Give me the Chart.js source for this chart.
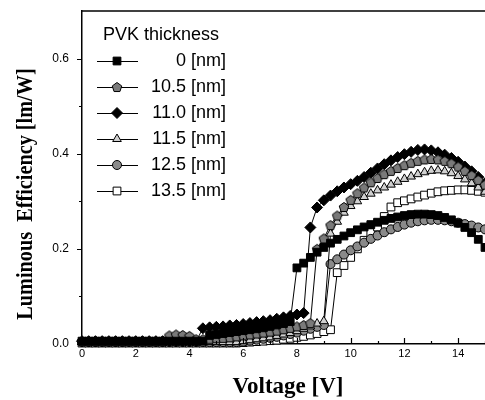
<!DOCTYPE html>
<html>

<head>
    <style>
        body { margin: 0; background: #fff; }
        #chartBox { width: 485px; height: 400px; position: relative; }
    </style>
    <script src="https://cdn.jsdelivr.net/npm/chart.js"></script>
</head>

<body>
    <div id="chartBox">
        <canvas id="effChart"></canvas>
    </div>

    <script>
        // drive voltage, 0.25 V steps
        const voltage = [
            0, 0.25, 0.5, 0.75, 1, 1.25, 1.5, 1.75, 2, 2.25, 2.5, 2.75,
            3, 3.25, 3.5, 3.75, 4, 4.25, 4.5, 4.75, 5, 5.25, 5.5, 5.75,
            6, 6.25, 6.5, 6.75, 7, 7.25, 7.5, 7.75, 8, 8.25, 8.5, 8.75,
            9, 9.25, 9.5, 9.75, 10, 10.25, 10.5, 10.75, 11, 11.25, 11.5, 11.75,
            12, 12.25, 12.5, 12.75, 13, 13.25, 13.5, 13.75, 14, 14.25, 14.5, 14.75, 15
        ];

        const thickness = ['0 [nm]', '10.5 [nm]', '11.0 [nm]', '11.5 [nm]', '12.5 [nm]', '13.5 [nm]'];

        // luminous efficiency [lm/W]
        const eff0 = [
            0.006, 0.006, 0.006, 0.006, 0.006, 0.006, 0.006, 0.006, 0.006, 0.006, 0.006, 0.006,
            0.006, 0.006, 0.006, 0.006, 0.006, 0.006, 0.006, 0.018, 0.020, 0.022, 0.024, 0.026,
            0.028, 0.030, 0.032, 0.034, 0.037, 0.040, 0.043, 0.047, 0.160, 0.170, 0.182, 0.193,
            0.203, 0.212, 0.220, 0.227, 0.234, 0.240, 0.246, 0.251, 0.256, 0.260, 0.264, 0.267,
            0.270, 0.272, 0.273, 0.273, 0.272, 0.270, 0.266, 0.261, 0.254, 0.245, 0.234, 0.220, 0.203
        ];
        const eff105 = [
            0.006, 0.006, 0.006, 0.006, 0.006, 0.006, 0.006, 0.006, 0.006, 0.006, 0.006, 0.006,
            0.006, 0.018, 0.020, 0.019, 0.017, 0.010, 0.010, 0.011, 0.012, 0.013, 0.014, 0.016,
            0.018, 0.020, 0.022, 0.024, 0.026, 0.028, 0.031, 0.034, 0.037, 0.040, 0.044, 0.200,
            0.222, 0.250, 0.270, 0.288, 0.303, 0.317, 0.329, 0.340, 0.349, 0.357, 0.364, 0.370,
            0.376, 0.381, 0.385, 0.388, 0.389, 0.388, 0.385, 0.380, 0.373, 0.364, 0.355, 0.345, 0.335
        ];
        const eff110 = [
            0.006, 0.006, 0.006, 0.006, 0.006, 0.006, 0.006, 0.006, 0.006, 0.006, 0.006, 0.006,
            0.006, 0.006, 0.006, 0.006, 0.006, 0.006, 0.033, 0.035, 0.036, 0.037, 0.039, 0.040,
            0.042, 0.044, 0.046, 0.048, 0.050, 0.053, 0.056, 0.059, 0.062, 0.065, 0.245, 0.287,
            0.302, 0.312, 0.321, 0.329, 0.336, 0.343, 0.351, 0.360, 0.369, 0.378, 0.386, 0.393,
            0.399, 0.404, 0.408, 0.409, 0.407, 0.403, 0.398, 0.391, 0.383, 0.373, 0.363, 0.351, 0.338
        ];
        const eff115 = [
            0.004, 0.004, 0.004, 0.004, 0.004, 0.004, 0.004, 0.004, 0.004, 0.004, 0.004, 0.004,
            0.004, 0.004, 0.004, 0.004, 0.004, 0.004, 0.004, 0.004, 0.004, 0.004, 0.004, 0.004,
            0.006, 0.008, 0.010, 0.012, 0.014, 0.017, 0.020, 0.023, 0.027, 0.032, 0.037, 0.043,
            0.048, 0.232, 0.257, 0.276, 0.290, 0.300, 0.309, 0.316, 0.323, 0.329, 0.335, 0.341,
            0.347, 0.352, 0.357, 0.361, 0.364, 0.365, 0.363, 0.359, 0.353, 0.346, 0.338, 0.329, 0.320
        ];
        const eff125 = [
            0.004, 0.004, 0.004, 0.004, 0.004, 0.004, 0.004, 0.004, 0.004, 0.004, 0.004, 0.004,
            0.004, 0.004, 0.004, 0.004, 0.004, 0.004, 0.004, 0.004, 0.004, 0.004, 0.004, 0.004,
            0.005, 0.007, 0.009, 0.011, 0.013, 0.015, 0.018, 0.021, 0.024, 0.028, 0.032, 0.036,
            0.040, 0.168, 0.178, 0.188, 0.197, 0.205, 0.213, 0.221, 0.228, 0.235, 0.241, 0.246,
            0.251, 0.255, 0.258, 0.260, 0.261, 0.261, 0.260, 0.258, 0.255, 0.252, 0.249, 0.245, 0.241
        ];
        const eff135 = [
            0.002, 0.002, 0.002, 0.002, 0.002, 0.002, 0.002, 0.002, 0.002, 0.002, 0.002, 0.002,
            0.002, 0.002, 0.002, 0.002, 0.002, 0.002, 0.002, 0.002, 0.002, 0.002, 0.002, 0.002,
            0.003, 0.004, 0.005, 0.006, 0.007, 0.008, 0.010, 0.012, 0.014, 0.016, 0.019, 0.022,
            0.026, 0.030, 0.150, 0.165, 0.182, 0.200, 0.218, 0.234, 0.246, 0.268, 0.288, 0.297,
            0.301, 0.305, 0.309, 0.313, 0.317, 0.320, 0.322, 0.323, 0.324, 0.324, 0.323, 0.321, 0.319
        ];

        const xTicks = [0, 2, 4, 6, 8, 10, 12, 14];
        const xMinorTicks = [1, 3, 5, 7, 9, 11, 13, 15];
        const yTicks = [0, 0.2, 0.4, 0.6];
        const yMinorTicks = [0.1, 0.3, 0.5];

        const sansFont = '"Liberation Sans", Arial, sans-serif';
        const serifFont = '"Liberation Serif", "Times New Roman", serif';

        // Chart.js has no pentagon marker, so build one as an image
        function pentagonMarker(r, fill) {
            const c = document.createElement('canvas');
            c.width = c.height = 2 * r + 2;
            const g = c.getContext('2d');
            g.beginPath();
            for (let k = 0; k < 5; k++) {
                const a = -Math.PI / 2 + k * 2 * Math.PI / 5;
                const px = r + 1 + r * Math.cos(a);
                const py = r + 1.5 + r * Math.sin(a);
                if (k == 0) g.moveTo(px, py); else g.lineTo(px, py);
            }
            g.closePath();
            g.fillStyle = fill;
            g.fill();
            g.lineWidth = 1;
            g.strokeStyle = '#000';
            g.stroke();
            return c;
        }

        function toPoints(values) {
            return values.map((v, i) => ({ x: voltage[i], y: v }));
        }

        // keep the plot box fixed: no extra room for edge labels
        function noEdgePadding(scale) {
            scale.paddingTop = 0;
            scale.paddingBottom = 0;
            scale.paddingLeft = 0;
            scale.paddingRight = 0;
        }

        const seriesValues = [eff0, eff105, eff110, eff115, eff125, eff135];
        const markers = [
            { pointStyle: 'rect', radius: 5.5, fill: '#000' },
            { pointStyle: pentagonMarker(5, '#7a7a7a'), radius: 5, fill: '#7a7a7a' },
            { pointStyle: 'rectRot', radius: 5.5, fill: '#000' },
            { pointStyle: 'triangle', radius: 5, fill: '#d0d0d0' },
            { pointStyle: 'circle', radius: 4.5, fill: '#8a8a8a' },
            { pointStyle: 'rect', radius: 5.5, fill: '#fff' }
        ];

        const datasets = seriesValues.map((vals, i) => ({
            label: thickness[i],
            data: toPoints(vals),
            showLine: true,
            borderColor: '#000',
            borderWidth: 1,
            pointStyle: markers[i].pointStyle,
            pointRadius: markers[i].radius,
            pointBackgroundColor: markers[i].fill,
            pointBorderColor: '#000',
            pointBorderWidth: 1,
            clip: false
        }));

        // box lines, inward/outward tick marks, axis titles and the key
        const decorations = {
            id: 'decorations',
            afterDraw(chart) {
                const ctx = chart.ctx;
                const area = chart.chartArea;
                const xs = chart.scales.x;
                const ys = chart.scales.y;
                ctx.save();
                ctx.strokeStyle = '#000';
                ctx.lineWidth = 1.5;
                ctx.beginPath();
                ctx.moveTo(area.left, area.top);
                ctx.lineTo(chart.width, area.top);
                ctx.stroke();

                ctx.lineWidth = 1.2;
                ctx.beginPath();
                xTicks.forEach(v => {
                    const px = Math.round(xs.getPixelForValue(v)) + 0.5;
                    ctx.moveTo(px, area.bottom);
                    ctx.lineTo(px, area.bottom - 6);
                });
                xMinorTicks.forEach(v => {
                    const px = Math.round(xs.getPixelForValue(v)) + 0.5;
                    ctx.moveTo(px, area.bottom);
                    ctx.lineTo(px, area.bottom - 3);
                });
                yTicks.forEach(v => {
                    const py = Math.round(ys.getPixelForValue(v)) + 0.5;
                    ctx.moveTo(area.left, py);
                    ctx.lineTo(area.left - 5, py);
                });
                yMinorTicks.forEach(v => {
                    const py = Math.round(ys.getPixelForValue(v)) + 0.5;
                    ctx.moveTo(area.left, py);
                    ctx.lineTo(area.left - 3, py);
                });
                ctx.stroke();

                // axis titles
                ctx.fillStyle = '#000';
                ctx.font = 'bold 23px ' + serifFont;
                ctx.textAlign = 'center';
                ctx.textBaseline = 'alphabetic';
                ctx.fillText('Voltage [V]', 288, 393);

                ctx.save();
                ctx.translate(32, 194);
                ctx.rotate(-Math.PI / 2);
                ctx.scale(0.88, 1);
                ctx.font = 'bold 23px ' + serifFont;
                ctx.fillText('Luminous  Efficiency [lm/W]', 0, 0);
                ctx.restore();

                // key
                ctx.font = '18px ' + sansFont;
                ctx.textAlign = 'left';
                ctx.textBaseline = 'middle';
                ctx.fillText('PVK thickness', 103, 35);
                ctx.textAlign = 'right';
                chart.data.datasets.forEach((ds, i) => {
                    const ky = 61 + 26 * i;
                    ctx.strokeStyle = '#000';
                    ctx.lineWidth = 1;
                    ctx.beginPath();
                    ctx.moveTo(97, ky + 0.5);
                    ctx.lineTo(138, ky + 0.5);
                    ctx.stroke();
                    ctx.fillStyle = ds.pointBackgroundColor;
                    ctx.strokeStyle = '#000';
                    Chart.helpers.drawPoint(ctx, {
                        pointStyle: ds.pointStyle,
                        radius: ds.pointRadius,
                        rotation: 0,
                        borderWidth: 1
                    }, 117, ky);
                    ctx.fillStyle = '#000';
                    ctx.fillText(ds.label, 226, ky);
                });
                ctx.restore();
            }
        };

        const chart = new Chart(document.getElementById('effChart'), {
            type: 'scatter',
            data: { datasets: datasets },
            options: {
                responsive: true,
                maintainAspectRatio: false,
                animation: false,
                layout: { autoPadding: false, padding: { top: 11, right: 0, left: 0, bottom: 0 } },
                plugins: {
                    legend: { display: false },
                    tooltip: { enabled: false }
                },
                elements: { line: { tension: 0 } },
                scales: {
                    x: {
                        type: 'linear',
                        min: 0,
                        max: 15,
                        afterBuildTicks: (scale) => { scale.ticks = xTicks.map(v => ({ value: v })); },
                        afterFit: (scale) => { scale.height = 56; noEdgePadding(scale); },
                        grid: { display: false, drawTicks: false },
                        border: { display: true, color: '#000', width: 1.5 },
                        ticks: {
                            color: '#000',
                            font: { family: sansFont, size: 11 },
                            padding: 3,
                            maxRotation: 0,
                            autoSkip: false,
                            callback: (v) => String(v)
                        }
                    },
                    y: {
                        min: 0,
                        max: 0.7,
                        afterBuildTicks: (scale) => { scale.ticks = yTicks.map(v => ({ value: v })); },
                        afterFit: (scale) => { scale.width = 82; noEdgePadding(scale); },
                        grid: { display: false, drawTicks: false },
                        border: { display: true, color: '#000', width: 1.5 },
                        ticks: {
                            color: '#000',
                            font: { family: sansFont, size: 12 },
                            padding: 13,
                            autoSkip: false,
                            callback: (v) => Number(v).toFixed(1)
                        }
                    }
                }
            },
            plugins: [decorations]
        });
    </script>
</body>

</html>
